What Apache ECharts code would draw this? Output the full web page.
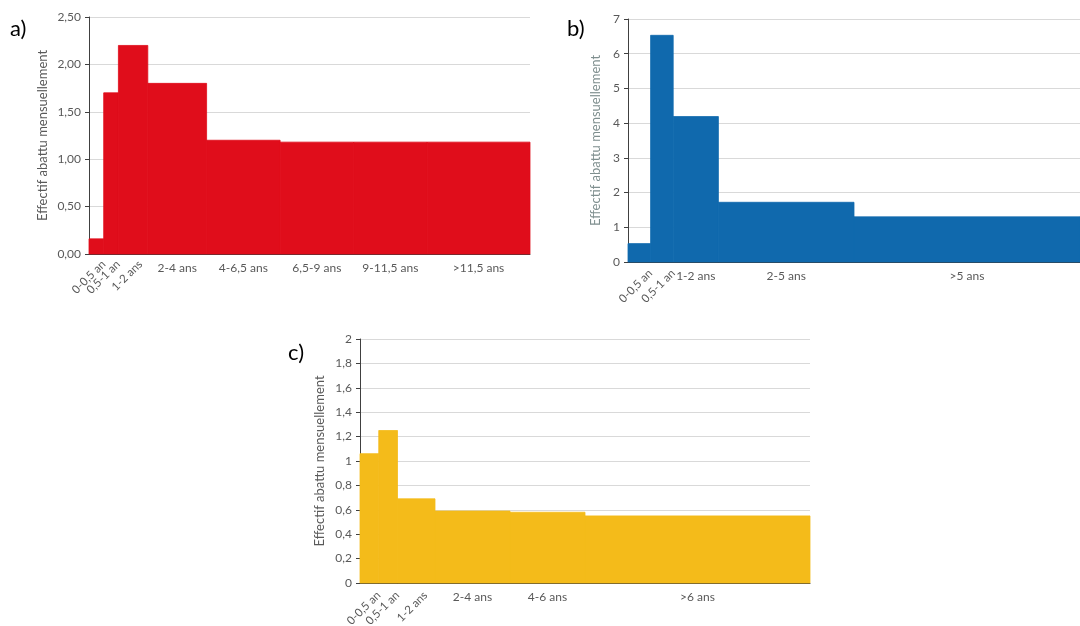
<!DOCTYPE html>
<html>
<head>
<meta charset="utf-8">
<script src="https://cdn.jsdelivr.net/npm/echarts@6/dist/echarts.min.js"></script>
<style>
html,body{margin:0;padding:0;background:#fff;}
#c{width:1080px;height:626px;}
</style>
</head>
<body>
<div id="c"></div>
<script>
// Panel a
const catsA = ['0-0,5 an','0,5-1 an','1-2 ans','2-4 ans','4-6,5 ans','6,5-9 ans','9-11,5 ans','>11,5 ans'];
const startA = [0, 0.5, 1, 2, 4, 6.5, 9, 11.5];
const endA   = [0.5, 1, 2, 4, 6.5, 9, 11.5, 15];
const valA   = [0.16, 1.70, 2.20, 1.80, 1.20, 1.18, 1.18, 1.18];
const ticksA = [0, 0.5, 1, 1.5, 2, 2.5];
// Panel b
const catsB = ['0-0,5 an','0,5-1 an','1-2 ans','2-5 ans','>5 ans'];
const startB = [0, 0.5, 1, 2, 5];
const endB   = [0.5, 1, 2, 5, 10];
const valB   = [0.53, 6.53, 4.19, 1.72, 1.30];
const ticksB = [0, 1, 2, 3, 4, 5, 6, 7];
// Panel c
const catsC = ['0-0,5 an','0,5-1 an','1-2 ans','2-4 ans','4-6 ans','>6 ans'];
const startC = [0, 0.5, 1, 2, 4, 6];
const endC   = [0.5, 1, 2, 4, 6, 12];
const valC   = [1.06, 1.25, 0.69, 0.59, 0.58, 0.55];
const ticksC = [0, 0.2, 0.4, 0.6, 0.8, 1, 1.2, 1.4, 1.6, 1.8, 2];

const FONT = 'Lato, "Open Sans", sans-serif';
const AXIS_NAME = 'Effectif abattu mensuellement';

function mkData(s, e, v) { return s.map((x, i) => [x, e[i], v[i]]); }

function mkRender(cats, color, rotDx, rotDy) {
  return function (params, api) {
    const i = params.dataIndex;
    const s = api.value(0), e = api.value(1), v = api.value(2);
    const p0 = api.coord([s, v]);
    const p1 = api.coord([e, 0]);
    const w = p1[0] - p0[0];
    const cx = (p0[0] + p1[0]) / 2;
    const children = [{
      type: 'rect',
      shape: { x: p0[0], y: p0[1], width: w, height: p1[1] - p0[1] },
      style: { fill: color, stroke: color, lineWidth: 0.8 }
    }];
    if (w < 40) {
      children.push({
        type: 'text',
        x: cx + rotDx, y: p1[1] + rotDy,
        rotation: 45 * Math.PI / 180,
        style: { text: cats[i], align: 'right', verticalAlign: 'top', fontSize: 11.5, fill: '#595959', fontFamily: FONT }
      });
    } else {
      children.push({
        type: 'text',
        x: cx, y: p1[1] + 14,
        style: { text: cats[i], align: 'center', verticalAlign: 'middle', fontSize: 12, fill: '#595959', fontFamily: FONT }
      });
    }
    return { type: 'group', children: children };
  };
}

function fmt(dec) {
  return function (v) { return (dec >= 0 ? v.toFixed(dec) : String(Math.round(v * 10) / 10)).replace('.', ','); };
}

function yAxis(idx, ticks, dec, nameGap, nameColor) {
  return {
    type: 'value', gridIndex: idx,
    min: ticks[0], max: ticks[ticks.length - 1], interval: ticks[1] - ticks[0],
    name: AXIS_NAME, nameLocation: 'middle', nameGap: nameGap,
    nameTextStyle: { color: nameColor, fontSize: 13, fontFamily: FONT },
    axisLine: { show: true, lineStyle: { color: '#404040', width: 1 } },
    axisTick: { show: true, length: 4, lineStyle: { color: '#404040' } },
    axisLabel: { color: '#595959', fontSize: 12, fontFamily: FONT, margin: 8, formatter: fmt(dec) },
    splitLine: { show: true, lineStyle: { color: '#d9d9d9', width: 1 } }
  };
}

function xAxis(idx, max) {
  return {
    type: 'value', gridIndex: idx, min: 0, max: max,
    axisLine: { show: true, onZero: false, lineStyle: { color: '#3a3a3a', width: 1 } },
    axisTick: { show: false }, axisLabel: { show: false }, splitLine: { show: false }
  };
}

const chart = echarts.init(document.getElementById('c'), null, { renderer: 'canvas' });
chart.setOption({
  animation: false,
  backgroundColor: '#ffffff',
  grid: [
    { left: 89, top: 17, right: 550, bottom: 372 },
    { left: 628, top: 19, right: -8, bottom: 364 },
    { left: 360, top: 339, right: 270, bottom: 43 }
  ],
  xAxis: [xAxis(0, endA[endA.length - 1]), xAxis(1, endB[endB.length - 1]), xAxis(2, endC[endC.length - 1])],
  yAxis: [yAxis(0, ticksA, 2, 40, '#595959'), yAxis(1, ticksB, 0, 26, '#7f8f8f'), yAxis(2, ticksC, -1, 34, '#595959')],
  series: [
    { type: 'custom', xAxisIndex: 0, yAxisIndex: 0, data: mkData(startA, endA, valA), renderItem: mkRender(catsA, '#e00d1b', 3, 4), encode: { x: [0, 1], y: 2 } },
    { type: 'custom', xAxisIndex: 1, yAxisIndex: 1, data: mkData(startB, endB, valB), renderItem: mkRender(catsB, '#1069ad', 7, 5), encode: { x: [0, 1], y: 2 } },
    { type: 'custom', xAxisIndex: 2, yAxisIndex: 2, data: mkData(startC, endC, valC), renderItem: mkRender(catsC, '#f4bb1a', 5, 6), encode: { x: [0, 1], y: 2 } }
  ],
  graphic: [
    { type: 'text', left: 10, top: 18, style: { text: 'a)', fontSize: 22, fill: '#000', fontFamily: FONT } },
    { type: 'text', left: 567, top: 18, style: { text: 'b)', fontSize: 22, fill: '#000', fontFamily: FONT } },
    { type: 'text', left: 288, top: 342, style: { text: 'c)', fontSize: 22, fill: '#000', fontFamily: FONT } }
  ]
});
</script>
</body>
</html>
